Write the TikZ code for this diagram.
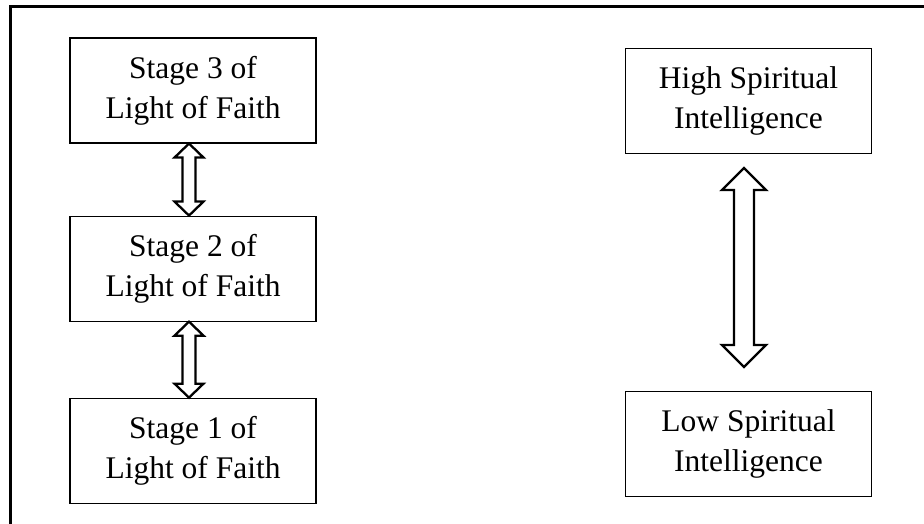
\documentclass[tikz,border=0pt]{standalone}
\usepackage{fontspec}
\setmainfont{Liberation Serif}
\usetikzlibrary{positioning, calc}

% hollow two-headed arrow: top tip, bottom tip, half shaft, half head, head length
\newcommand{\dblarrow}[5]{%
  \draw[fatarrow] (#1) -- ($(#1)+(#4,#5)$) -- ($(#1)+(#3,#5)$) -- ($(#2)+(#3,-#5)$)
    -- ($(#2)+(#4,-#5)$) -- (#2) -- ($(#2)+(-#4,-#5)$) -- ($(#2)+(-#3,-#5)$)
    -- ($(#1)+(-#3,#5)$) -- ($(#1)+(-#4,#5)$) -- cycle;}

\begin{document}
\begin{tikzpicture}[
    x=1pt, y=-1pt,
    node distance=72pt,
    stagebox/.style={rectangle, draw, line width=1.1pt, minimum width=246pt, minimum height=105pt, align=center, font=\fontsize{31.5}{40}\selectfont},
    fatarrow/.style={draw, line width=2.3pt, fill=white, line join=miter},
    frame/.style={line width=3pt}
  ]
    \useasboundingbox (0,0) rectangle (924,524);

    % Outer frame (only top and left show)
    \draw[frame] (924,7) -| (10.5,524);

    % Stages
    \node[stagebox] (stage3) at (193,90.5) {Stage 3 of\\Light of Faith};
    \node[stagebox, below=72pt of stage3] (stage2) {Stage 2 of\\Light of Faith};
    \node[stagebox, below=76pt of stage2] (stage1) {Stage 1 of\\Light of Faith};

    % Spiritual intelligence
    \node[stagebox] (high) at (748.5,101) {High Spiritual\\Intelligence};
    \node[stagebox, below=237pt of high] (low) {Low Spiritual\\Intelligence};

    % Arrow ends
    \coordinate (s3b) at ([xshift=-4pt]stage3.south);
    \coordinate (s2t) at ([xshift=-4pt]stage2.north);
    \coordinate (s2b) at ([xshift=-4pt]stage2.south);
    \coordinate (s1t) at ([xshift=-4pt]stage1.north);
    \coordinate (hb) at ([xshift=-4.5pt, yshift=-14pt]high.south);
    \coordinate (lt) at ([xshift=-4.5pt, yshift=24pt]low.north);

    % Arrows
    \dblarrow{s3b}{s2t}{6.5}{14.5}{14}
    \dblarrow{s2b}{s1t}{6.5}{14.5}{14}
    \dblarrow{hb}{lt}{10}{22}{22}
  \end{tikzpicture}
\end{document}
